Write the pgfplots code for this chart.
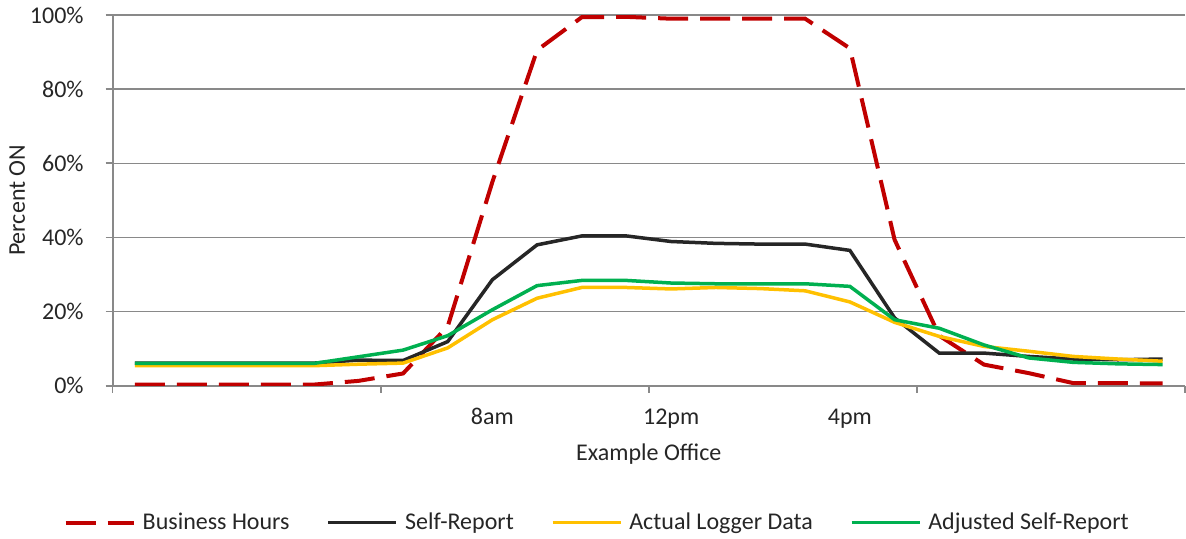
\documentclass[border=0pt]{standalone}
\usepackage{fontspec}
\setmainfont{Carlito}
\usepackage{pgfplots}
\pgfplotsset{compat=1.18}
\definecolor{axisgray}{HTML}{898989}
\definecolor{bizred}{HTML}{C00000}
\definecolor{selfblack}{HTML}{262626}
\definecolor{logyellow}{HTML}{FFC000}
\definecolor{adjgreen}{HTML}{00B050}
\definecolor{txt}{HTML}{262626}
\begin{document}
\begin{tikzpicture}
\path[use as bounding box] (0,0) rectangle (593pt,269pt);
\begin{axis}[
  at={(56.3pt,76.15pt)}, anchor=south west,
  scale only axis, width=536.2pt, height=185.35pt,
  xmin=-0.5, xmax=23.5, ymin=0, ymax=100,
  axis x line=bottom, axis y line=left,
  axis line style={draw=axisgray, line width=1pt, -},
  font=\fontsize{12}{14.4}\selectfont,
  every tick label/.append style={font=\fontsize{12}{14.4}\selectfont, text=txt},
  xtick={-0.5,5.5,11.5,17.5,23.5}, xticklabels={},
  extra x ticks={8,12,16}, extra x tick labels={8am,12pm,4pm},
  extra x tick style={major tick length=0pt, xticklabel style={anchor=base, inner sep=0pt, yshift=-19.6pt}},
  ytick={0,20,40,60,80,100}, yticklabels={0\%,20\%,40\%,60\%,80\%,100\%},
  yticklabel style={anchor=east, inner sep=0pt, xshift=-10.8pt},
  tick align=outside, major tick length=3.5pt,
  tick style={draw=axisgray, line width=0.8pt},
  ymajorgrids, grid style={draw=axisgray, line width=0.75pt},
  xlabel={Example Office},
  xlabel style={at={(axis description cs:0.5,0)}, anchor=base, inner sep=0pt, yshift=-37.5pt, text=txt},
  ylabel={Percent ON},
  ylabel style={at={(axis description cs:-0.0891,0.5)}, anchor=center, inner sep=0pt, text=txt},
  legend columns=4,
  legend style={at={(axis description cs:0.451,-0.369)}, anchor=center, draw=none, fill=none,
    font=\fontsize{12}{14.4}\selectfont, text=txt,
    nodes={inner sep=0pt}, column sep=3.5pt,
    /tikz/every even column/.append style={column sep=18.5pt}},
  legend cell align=left,
  legend image code/.code={\draw[#1] (0pt,0pt) -- (34pt,0pt);},
]
\addplot[bizred, line width=2pt, dash pattern=on 15pt off 6pt] coordinates {
(0,0.3) (1,0.3) (2,0.3) (3,0.3) (4,0.3) (5,1.3) (6,3.3) (7,16) (8,55) (9,90.5)
(10,99.4) (11,99.5) (12,99) (13,99) (14,99) (15,99) (16,91) (17,39.4) (18,13.5)
(19,5.7) (20,3.4) (21,0.7) (22,0.7) (23,0.6)};
\addlegendentry{Business Hours}
\addplot[selfblack, line width=1.75pt] coordinates {
(0,6.1) (1,6.1) (2,6.1) (3,6.1) (4,6.1) (5,6.9) (6,6.8) (7,11.9) (8,28.6) (9,38)
(10,40.4) (11,40.4) (12,38.9) (13,38.4) (14,38.2) (15,38.2) (16,36.5) (17,18.3) (18,8.8)
(19,8.8) (20,7.9) (21,7.2) (22,7.0) (23,7.2)};
\addlegendentry{Self-Report}
\addplot[logyellow, line width=1.75pt] coordinates {
(0,5.4) (1,5.4) (2,5.4) (3,5.4) (4,5.4) (5,5.8) (6,6.1) (7,10.2) (8,17.8) (9,23.6)
(10,26.5) (11,26.5) (12,26.1) (13,26.5) (14,26.2) (15,25.6) (16,22.6) (17,17.1) (18,13.3)
(19,10.6) (20,9.3) (21,7.9) (22,7.2) (23,6.6)};
\addlegendentry{Actual Logger Data}
\addplot[adjgreen, line width=1.75pt] coordinates {
(0,6) (1,6) (2,6) (3,6) (4,6) (5,7.8) (6,9.6) (7,13.5) (8,20.5) (9,27)
(10,28.4) (11,28.4) (12,27.7) (13,27.5) (14,27.5) (15,27.5) (16,26.8) (17,17.8) (18,15.5)
(19,11) (20,7.5) (21,6.3) (22,5.9) (23,5.7)};
\addlegendentry{Adjusted Self-Report}
\end{axis}
\end{tikzpicture}
\end{document}
